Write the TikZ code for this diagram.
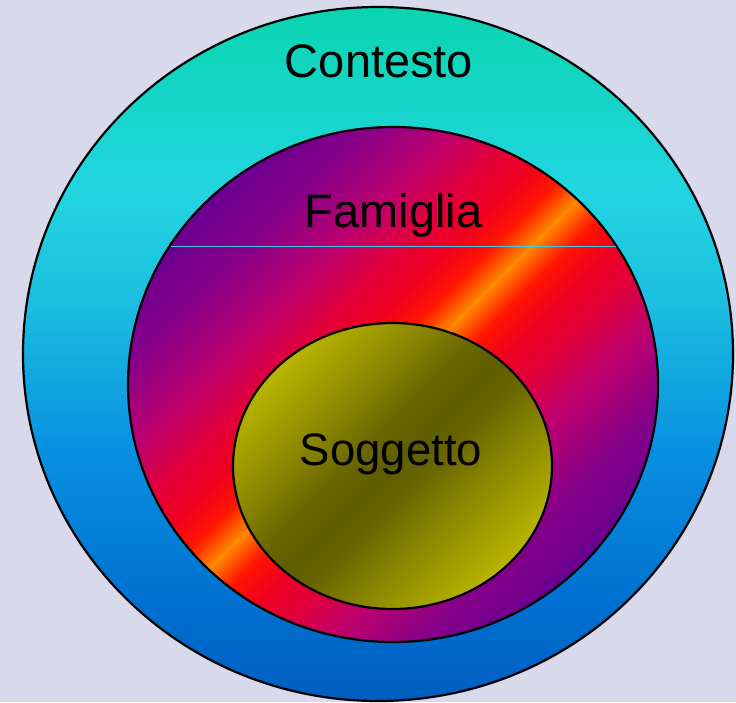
\documentclass[tikz,border=0pt]{standalone}
\usepackage{fontspec}
\setmainfont{Liberation Sans}
\usepackage{tikz}
\usetikzlibrary{positioning}

\definecolor{bgLav}{HTML}{D9D9EC}
% outer ring (Contesto), top to bottom
\definecolor{ctxTop}{HTML}{0AD4B0}
\definecolor{ctxA}{HTML}{10D5BD}
\definecolor{ctxB}{HTML}{22D5E0}
\definecolor{ctxC}{HTML}{1CBFE0}
\definecolor{ctxD}{HTML}{0890E0}
\definecolor{ctxE}{HTML}{0070D0}
\definecolor{ctxBot}{HTML}{005EC0}
% middle ring (Famiglia)
\definecolor{famO}{HTML}{FF8800}
\definecolor{famRa}{HTML}{FF1400}
\definecolor{famRb}{HTML}{F00020}
\definecolor{famRc}{HTML}{E0003C}
\definecolor{famM}{HTML}{C0006C}
\definecolor{famV}{HTML}{880088}
\definecolor{famP}{HTML}{6A0090}
% inner (Soggetto)
\definecolor{sogD}{HTML}{5E5E00}
\definecolor{sogA}{HTML}{6A6600}
\definecolor{sogB}{HTML}{8C8800}
\definecolor{sogC}{HTML}{AAA600}
\definecolor{sogY}{HTML}{BCB800}
\definecolor{gapLine}{HTML}{40C8E4}

\pgfdeclareverticalshading{contestoshade}{100bp}{
  color(0bp)=(ctxBot); color(25bp)=(ctxBot); color(32bp)=(ctxE);
  color(43bp)=(ctxD); color(54bp)=(ctxC); color(62bp)=(ctxB);
  color(71bp)=(ctxA); color(75bp)=(ctxTop); color(100bp)=(ctxTop)}
\pgfdeclarehorizontalshading{famigliashade}{100bp}{
  color(0bp)=(famP); color(25bp)=(famP); color(31bp)=(famV);
  color(37bp)=(famM); color(41bp)=(famRc); color(44.5bp)=(famRb);
  color(47.3bp)=(famRa); color(50bp)=(famO); color(52.7bp)=(famRa);
  color(55.5bp)=(famRb); color(59bp)=(famRc); color(63bp)=(famM);
  color(69bp)=(famV); color(75bp)=(famP); color(100bp)=(famP)}
\pgfdeclarehorizontalshading{soggettoshade}{100bp}{
  color(0bp)=(sogY); color(24bp)=(sogY); color(29bp)=(sogC);
  color(37bp)=(sogB); color(45bp)=(sogA); color(50bp)=(sogD);
  color(55bp)=(sogA); color(63bp)=(sogB); color(71bp)=(sogC);
  color(76bp)=(sogY); color(100bp)=(sogY)}

\begin{document}
\begin{tikzpicture}[x=1pt,y=-1pt,
    ring/.style={draw=black,line width=2.2pt},
    ringtext/.style={anchor=base,inner sep=0pt,font=\fontsize{47}{56}\selectfont}]
    \fill[bgLav] (0,0) rectangle (736,702);
    \useasboundingbox (0,0) rectangle (736,702);
    % outer ring
    \shadedraw[ring,shading=contestoshade] (378,354) ellipse (355 and 347);
    % middle ring
    \shadedraw[ring,shading=famigliashade,shading angle=-45] (393,384.5) ellipse (265 and 257.5);
    \draw[gapLine,line width=0.8pt] (170.5,246) -- (615.5,246);
    % inner ellipse
    \shadedraw[ring,shading=soggettoshade,shading angle=-45] (392.5,466) ellipse (159.5 and 143);
    % texts
    \node[ringtext] (contesto) at (379,77) {Contesto};
    \node[ringtext] (famiglia) at (393.5,227) {Famiglia};
    \node[ringtext,font=\fontsize{45.5}{54}\selectfont] (soggetto) at (391,465) {Soggetto};
  \end{tikzpicture}
\end{document}
